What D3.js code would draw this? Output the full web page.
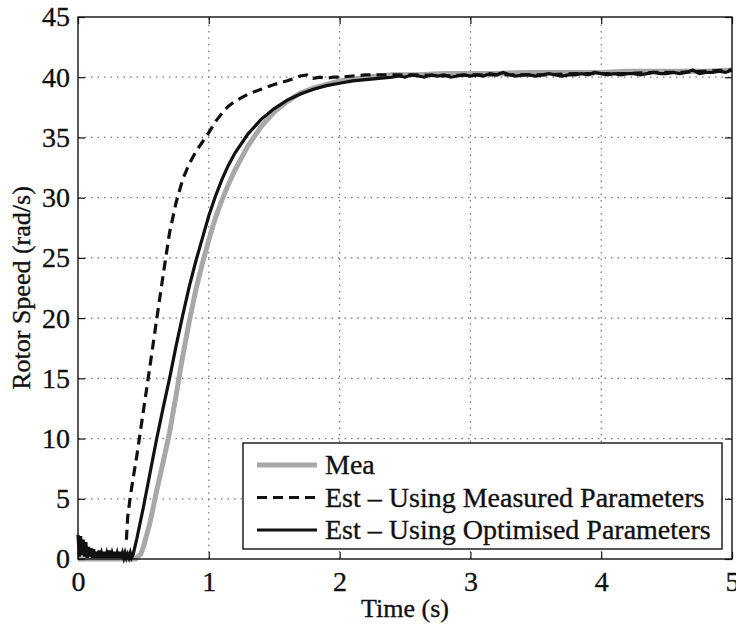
<!DOCTYPE html>
<html>
<head>
<meta charset="utf-8">
<script src="https://cdn.jsdelivr.net/npm/d3@7"></script>
<style>
  body { margin: 0; background: #fff; }
  svg text { font-family: "Liberation Serif", Tinos, "Nimbus Roman", "DejaVu Serif", serif; fill: #111; stroke: #111; stroke-width: 0.35px; }
</style>
</head>
<body>
<div id="root"></div>
<script>
// axis ticks
const xTicks = [0, 1, 2, 3, 4, 5];
const yTicks = [0, 5, 10, 15, 20, 25, 30, 35, 40, 45];

// measured speed (grey)
const meaT = [0, 0.44, 0.48, 0.5, 0.55, 0.6, 0.65, 0.7, 0.75, 0.8, 0.85, 0.9, 0.95, 1.0, 1.05, 1.1, 1.15, 1.2, 1.3, 1.4, 1.5, 1.6, 1.7, 1.8, 1.9, 2.0, 2.2, 2.4, 2.6, 2.8, 3.0, 3.2, 3.4, 3.6, 3.8, 4.0, 4.2, 4.4, 4.6, 4.8, 5.0];
const meaV = [0, 0, 0.4, 1.0, 3.0, 5.6, 8.0, 10.5, 13.6, 16.8, 19.7, 22.3, 24.5, 26.5, 28.3, 29.8, 31.1, 32.3, 34.3, 35.9, 37.1, 38.0, 38.7, 39.1, 39.4, 39.7, 40.0, 40.2, 40.2, 40.3, 40.3, 40.3, 40.4, 40.4, 40.4, 40.4, 40.5, 40.5, 40.5, 40.5, 40.6];

// estimate with measured parameters (dashed)
const estMT = [0.37, 0.38, 0.40, 0.42, 0.45, 0.5, 0.55, 0.6, 0.65, 0.7, 0.75, 0.8, 0.85, 0.9, 0.95, 1.0, 1.05, 1.1, 1.15, 1.2, 1.3, 1.4, 1.5, 1.6, 1.65, 1.7, 1.75, 1.8, 1.85, 1.9, 1.95, 2.0, 2.1, 2.2, 2.3, 2.4, 2.6, 2.8, 3.0, 3.2, 3.4, 3.6, 3.8, 4.0, 4.2, 4.4, 4.6, 4.8, 5.0];
const estMV = [1.6, 3.5, 5.2, 6.6, 8.6, 12.3, 16.0, 19.8, 23.5, 27.1, 29.6, 31.5, 32.8, 33.8, 34.6, 35.4, 36.3, 37.0, 37.6, 38.0, 38.6, 39.0, 39.4, 39.7, 39.9, 40.1, 40.2, 39.9, 40.0, 39.9, 40.0, 40.0, 40.1, 40.2, 40.2, 40.2, 40.2, 40.1, 40.2, 40.2, 40.2, 40.2, 40.3, 40.3, 40.3, 40.4, 40.4, 40.5, 40.6];

// estimate with optimised parameters (solid)
const estOT = [0, 0.01, 0.02, 0.03, 0.04, 0.05, 0.06, 0.07, 0.08, 0.09, 0.1, 0.11, 0.12, 0.13, 0.14, 0.15, 0.16, 0.17, 0.18, 0.19, 0.2, 0.21, 0.22, 0.23, 0.24, 0.25, 0.26, 0.27, 0.28, 0.29, 0.3, 0.31, 0.32, 0.33, 0.34, 0.35, 0.36, 0.37, 0.38, 0.39, 0.4, 0.41, 0.42,
  0.45, 0.5, 0.55, 0.6, 0.65, 0.7, 0.75, 0.8, 0.85, 0.9, 0.95, 1.0, 1.05, 1.1, 1.15, 1.2, 1.3, 1.4, 1.5, 1.6, 1.7, 1.8, 1.9, 2.0, 2.1, 2.2, 2.3, 2.4,
  2.45, 2.5, 2.55, 2.6, 2.65, 2.7, 2.75, 2.8, 2.85, 2.9, 2.95, 3.0, 3.05, 3.1, 3.15, 3.2, 3.25, 3.3, 3.35, 3.4, 3.45, 3.5, 3.55, 3.6, 3.65, 3.7, 3.75, 3.8, 3.85, 3.9, 3.95,
  4.0, 4.05, 4.1, 4.15, 4.2, 4.25, 4.3, 4.35, 4.4, 4.45, 4.5, 4.55, 4.6, 4.65, 4.7, 4.75, 4.8, 4.85, 4.9, 4.95, 5.0];
const estOV = [2.0, 0.2, 1.9, 0.3, 1.6, 0.2, 1.4, 0.1, 1.0, 0.2, 0.9, 0.1, 0.8, 0.1, 0.6, 0.1, 0.7, 0.1, 0.5, 0.1, 0.6, 0.1, 0.5, 0.1, 0.7, 0.1, 0.5, 0.1, 0.6, 0.1, 0.5, 0.1, 0.6, 0.1, 0.5, 0.1, 0.5, 0.1, 0.4, 0.1, 0.5, 0.1, 0.3,
  1.7, 4.3, 7.1, 9.9, 12.5, 15.0, 17.7, 20.2, 22.6, 24.7, 26.6, 28.5, 30.1, 31.5, 32.7, 33.7, 35.3, 36.5, 37.4, 38.1, 38.6, 39.0, 39.3, 39.5, 39.7, 39.8, 39.9, 40.0,
  40.1, 40.0, 40.2, 40.1, 40.0, 40.2, 40.1, 40.2, 40.0, 40.1, 40.2, 40.1, 40.2, 40.1, 40.3, 40.2, 40.4, 40.2, 40.1, 40.2, 40.2, 40.1, 40.2, 40.3, 40.2, 40.1, 40.2, 40.2, 40.3, 40.2, 40.4,
  40.3, 40.2, 40.3, 40.2, 40.3, 40.3, 40.2, 40.3, 40.4, 40.3, 40.3, 40.4, 40.3, 40.4, 40.6, 40.3, 40.4, 40.4, 40.5, 40.4, 40.6];

const legendLabels = ["Mea", "Est \u2013 Using Measured Parameters", "Est \u2013 Using Optimised Parameters"];

const width = 736;
const height = 626;
const margin = { top: 17, right: 4, bottom: 67, left: 78 };

const x = d3.scaleLinear().domain([0, 5]).range([margin.left, width - margin.right]);
const y = d3.scaleLinear().domain([0, 45]).range([height - margin.bottom, margin.top]);

const svg = d3.select("#root").append("svg")
  .attr("width", width)
  .attr("height", height);

// grid
svg.append("g")
  .selectAll("line")
  .data(xTicks.slice(1, -1))
  .enter().append("line")
  .attr("x1", d => x(d)).attr("x2", d => x(d))
  .attr("y1", y(0)).attr("y2", y(45))
  .attr("stroke", "#777").attr("stroke-width", 1.2)
  .attr("stroke-dasharray", "1.5,5");

svg.append("g")
  .selectAll("line")
  .data(yTicks.slice(1, -1))
  .enter().append("line")
  .attr("y1", d => y(d)).attr("y2", d => y(d))
  .attr("x1", x(0)).attr("x2", x(5))
  .attr("stroke", "#777").attr("stroke-width", 1.2)
  .attr("stroke-dasharray", "1.5,5");

const line = d3.line().x(d => x(d[0])).y(d => y(d[1]));

svg.append("path")
  .datum(d3.zip(meaT, meaV))
  .attr("d", line)
  .attr("fill", "none")
  .attr("stroke", "#a8a8a8")
  .attr("stroke-width", 5);

svg.append("path")
  .datum(d3.zip(estMT, estMV))
  .attr("d", line)
  .attr("fill", "none")
  .attr("stroke", "#111")
  .attr("stroke-width", 3.2)
  .attr("stroke-dasharray", "10,6");

svg.append("path")
  .datum(d3.zip(estOT, estOV))
  .attr("d", line)
  .attr("fill", "none")
  .attr("stroke", "#111")
  .attr("stroke-width", 3.2);

// axes (ticks inside, box style)
const tickLen = 7;
svg.append("g")
  .attr("transform", `translate(0,${y(0)})`)
  .call(d3.axisBottom(x).tickValues(xTicks).tickSize(-tickLen).tickPadding(12).tickFormat(d3.format("d")))
  .call(g => g.select(".domain").remove());

svg.append("g")
  .attr("transform", `translate(0,${y(45)})`)
  .call(d3.axisTop(x).tickValues(xTicks).tickSize(-tickLen).tickFormat(""))
  .call(g => g.select(".domain").remove());

svg.append("g")
  .attr("transform", `translate(${x(0)},0)`)
  .call(d3.axisLeft(y).tickValues(yTicks).tickSize(-tickLen).tickPadding(8).tickFormat(d3.format("d")))
  .call(g => g.select(".domain").remove());

svg.append("g")
  .attr("transform", `translate(${x(5)},0)`)
  .call(d3.axisRight(y).tickValues(yTicks).tickSize(-tickLen).tickFormat(""))
  .call(g => g.select(".domain").remove());

svg.selectAll(".tick line").attr("stroke", "#111").attr("stroke-width", 1.2);
svg.selectAll(".tick text").attr("font-size", 28).attr("font-family", null);

svg.append("rect")
  .attr("x", x(0)).attr("y", y(45))
  .attr("width", x(5) - x(0)).attr("height", y(0) - y(45))
  .attr("fill", "none").attr("stroke", "#111").attr("stroke-width", 1.4);

// axis labels
svg.append("text")
  .attr("x", (x(0) + x(5)) / 2)
  .attr("y", 617)
  .attr("text-anchor", "middle")
  .attr("font-size", 26)
  .text("Time (s)");

svg.append("text")
  .attr("transform", `translate(30,${(y(0) + y(45)) / 2}) rotate(-90)`)
  .attr("text-anchor", "middle")
  .attr("font-size", 26)
  .text("Rotor Speed (rad/s)");

// legend
const legend = svg.append("g");
legend.append("rect")
  .attr("x", 243).attr("y", 443)
  .attr("width", 479).attr("height", 106)
  .attr("fill", "#fff").attr("stroke", "#111").attr("stroke-width", 1.4);

const legendStyles = [
  { stroke: "#a8a8a8", width: 5, dash: null },
  { stroke: "#111", width: 3.2, dash: "10,6" },
  { stroke: "#111", width: 3.2, dash: null }
];

legendLabels.forEach((label, i) => {
  const cy = 465 + i * 32.5;
  legend.append("line")
    .attr("x1", 257).attr("x2", 317)
    .attr("y1", cy).attr("y2", cy)
    .attr("stroke", legendStyles[i].stroke)
    .attr("stroke-width", legendStyles[i].width)
    .attr("stroke-dasharray", legendStyles[i].dash);
  legend.append("text")
    .attr("x", 325).attr("y", cy + 9)
    .attr("font-size", 28)
    .text(label);
});
</script>
</body>
</html>
